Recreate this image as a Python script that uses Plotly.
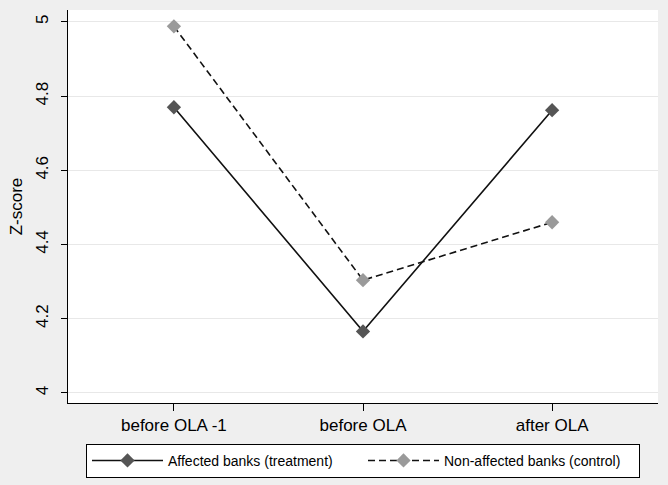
import plotly.graph_objects as go

categories = ["before OLA -1", "before OLA", "after OLA"]
affected = [4.770, 4.166, 4.762]
non_affected = [4.988, 4.304, 4.460]
y_ticks = [4, 4.2, 4.4, 4.6, 4.8, 5]
y_tick_labels = ["4", "4.2", "4.4", "4.6", "4.8", "5"]

FONT = "Liberation Sans, Arial, sans-serif"

fig = go.Figure()
fig.add_trace(go.Scatter(
    x=categories, y=affected, mode="lines+markers",
    name="Affected banks (treatment)",
    line=dict(color="#111111", width=1.6),
    marker=dict(symbol="diamond", size=11, color="#555555"),
))
fig.add_trace(go.Scatter(
    x=categories, y=non_affected, mode="lines+markers",
    name="Non-affected banks (control)",
    line=dict(color="#111111", width=1.6, dash="7px,4px"),
    marker=dict(symbol="diamond", size=11, color="#9a9a9a"),
))

fig.update_layout(
    width=668, height=485,
    margin=dict(l=68, r=10, t=10, b=82, autoexpand=False),
    paper_bgcolor="#efefef",
    plot_bgcolor="#ffffff",
    font=dict(family=FONT, size=16, color="#000000"),
    showlegend=True,
    legend=dict(
        orientation="h",
        x=0.5, xanchor="center",
        y=-0.104, yanchor="top",
        bgcolor="#ffffff",
        bordercolor="#000000", borderwidth=1,
        font=dict(size=14),
        itemwidth=71,
        entrywidth=190, entrywidthmode="pixels",
    ),
    xaxis=dict(
        type="category",
        range=[-0.56, 2.56],
        showline=True, linecolor="#000000", linewidth=1,
        ticks="outside", ticklen=7, tickcolor="#000000",
        showgrid=False, zeroline=False,
        tickfont=dict(size=17),
        automargin=False,
    ),
    yaxis=dict(
        range=[3.973, 5.032],
        tickvals=y_ticks, ticktext=y_tick_labels,
        tickangle=-90,
        ticklabelstandoff=6,
        showline=True, linecolor="#000000", linewidth=1,
        ticks="outside", ticklen=6, tickcolor="#000000",
        showgrid=True, gridcolor="#e8e8e8", gridwidth=1,
        zeroline=False,
        tickfont=dict(size=17),
        title=dict(text="Z-score", font=dict(size=17), standoff=6),
        automargin=False,
    ),
)

fig.write_html(
    "out.html",
    config={"displayModeBar": False},
    post_script="document.body.style.margin='0';document.body.style.padding='0';",
)
